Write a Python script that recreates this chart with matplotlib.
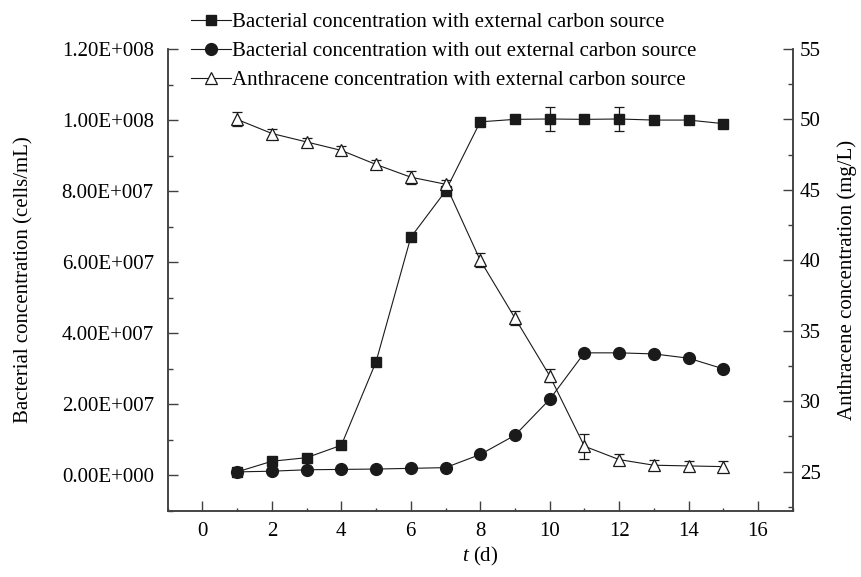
import numpy as np
import matplotlib.pyplot as plt
from matplotlib.lines import Line2D
from matplotlib.ticker import MultipleLocator, FuncFormatter

plt.rcParams['font.family'] = ['Liberation Serif', 'DejaVu Serif']
plt.rcParams['mathtext.fontset'] = 'custom'
plt.rcParams['mathtext.it'] = 'Liberation Serif:italic'
plt.rcParams['mathtext.rm'] = 'Liberation Serif'

# data
days = [1, 2, 3, 4, 5, 6, 7, 8, 9, 10, 11, 12, 13, 14, 15]
bact_with = [1.0e6, 4.0e6, 5.0e6, 8.5e6, 3.2e7, 6.7e7, 8.0e7, 9.95e7,
             1.002e8, 1.003e8, 1.002e8, 1.003e8, 1.0e8, 1.0e8, 9.9e7]
bact_with_err = [0, 0, 0, 0, 0, 0, 0, 0, 1.0e6, 3.5e6, 0, 3.5e6, 0, 0, 0]
bact_without = [1.0e6, 1.2e6, 1.6e6, 1.7e6, 1.8e6, 2.0e6, 2.2e6, 5.9e6,
                1.13e7, 2.14e7, 3.45e7, 3.45e7, 3.42e7, 3.3e7, 3.0e7]
anthracene = [50.0, 49.0, 48.4, 47.8, 46.8, 45.9, 45.4, 40.0, 35.9, 31.8,
              26.8, 25.85, 25.45, 25.4, 25.35]
anthracene_err = [0.5, 0.3, 0.3, 0.3, 0.35, 0.45, 0.3, 0.5, 0.5, 0.45,
                  0.9, 0.4, 0.35, 0.35, 0.4]

labels = ['Bacterial concentration with external carbon source',
          'Bacterial concentration with out external carbon source',
          'Anthracene concentration with external carbon source']

ink = '#1a1a1a'
spine_c = '#404040'
fs = 15

fig = plt.figure(figsize=(8.62, 5.77), dpi=100)
ax = fig.add_axes([0.1946, 0.1144, 0.7250, 0.8007])
ax2 = ax.twinx()

sq = dict(color=ink, marker='s', markersize=7, linewidth=0.8)
ci = dict(color=ink, marker='o', markersize=8.5, linewidth=0.8)
tr = dict(color=ink, marker='^', markersize=9, markerfacecolor='white',
          markeredgewidth=0.9, linewidth=0.8)

ax.errorbar(days, bact_with, yerr=bact_with_err, elinewidth=0.9, capsize=3.5,
            capthick=0.9, zorder=2, **sq)
ax.plot(days, bact_without, zorder=3, **ci)
ax2.errorbar(days, anthracene, yerr=anthracene_err, elinewidth=0.9,
             capsize=3.5, capthick=0.9, zorder=3, **tr)

ax.set_xlim(-1, 17)
ax.set_ylim(-1.0e7, 1.2e8)
ax2.set_ylim(22.2, 55)

ax.xaxis.set_major_locator(MultipleLocator(2))
ax.xaxis.set_minor_locator(MultipleLocator(1))
ax.yaxis.set_major_locator(MultipleLocator(2e7))
ax.yaxis.set_minor_locator(MultipleLocator(1e7))
ax2.yaxis.set_major_locator(MultipleLocator(5))
ax2.yaxis.set_minor_locator(MultipleLocator(2.5))


def sci_fmt(v, pos):
    if v < 0:
        return ''
    if v == 0:
        return '0.00E+000'
    e = int(np.floor(np.log10(v) + 1e-9))
    return '%.2fE+%03d' % (v / 10**e, e)


ax.yaxis.set_major_formatter(FuncFormatter(sci_fmt))
ax2.yaxis.set_major_formatter(FuncFormatter(lambda v, p: '' if v < 25 else '%d' % v))

for a in (ax, ax2):
    for s in a.spines.values():
        s.set_color(spine_c)
        s.set_linewidth(1.1)
    a.spines['top'].set_visible(False)

ax.tick_params(axis='both', which='major', direction='in', length=7,
               width=1.0, color=spine_c, labelsize=fs)
ax.tick_params(axis='both', which='minor', direction='in', length=3.5,
               width=1.0, color=spine_c)
ax.tick_params(axis='y', which='major', pad=10)
ax.tick_params(axis='x', which='major', pad=8)
ax.tick_params(axis='x', which='minor', length=2)
ax2.tick_params(axis='y', which='major', direction='in', length=7,
                width=1.0, color=spine_c, labelsize=fs, pad=5)
ax2.tick_params(axis='y', which='minor', direction='in', length=3.5,
                width=1.0, color=spine_c)

ax.set_xlabel('$t$ (d)', fontsize=fs, labelpad=3)
ax.set_ylabel('Bacterial concentration (cells/mL)', fontsize=fs, labelpad=20)
ax2.set_ylabel('Anthracene concentration (mg/L)', fontsize=fs, labelpad=12)

handles = [Line2D([], [], **sq), Line2D([], [], **ci), Line2D([], [], **tr)]
leg = ax2.legend(handles=handles, labels=labels, loc='upper left',
                 bbox_to_anchor=(0.205, 1.0035), bbox_transform=fig.transFigure,
                 frameon=False, fontsize=fs, handlelength=1.9,
                 handletextpad=0.05, labelspacing=0.45, borderpad=0.2)

fig.savefig('out.png', dpi=100)
